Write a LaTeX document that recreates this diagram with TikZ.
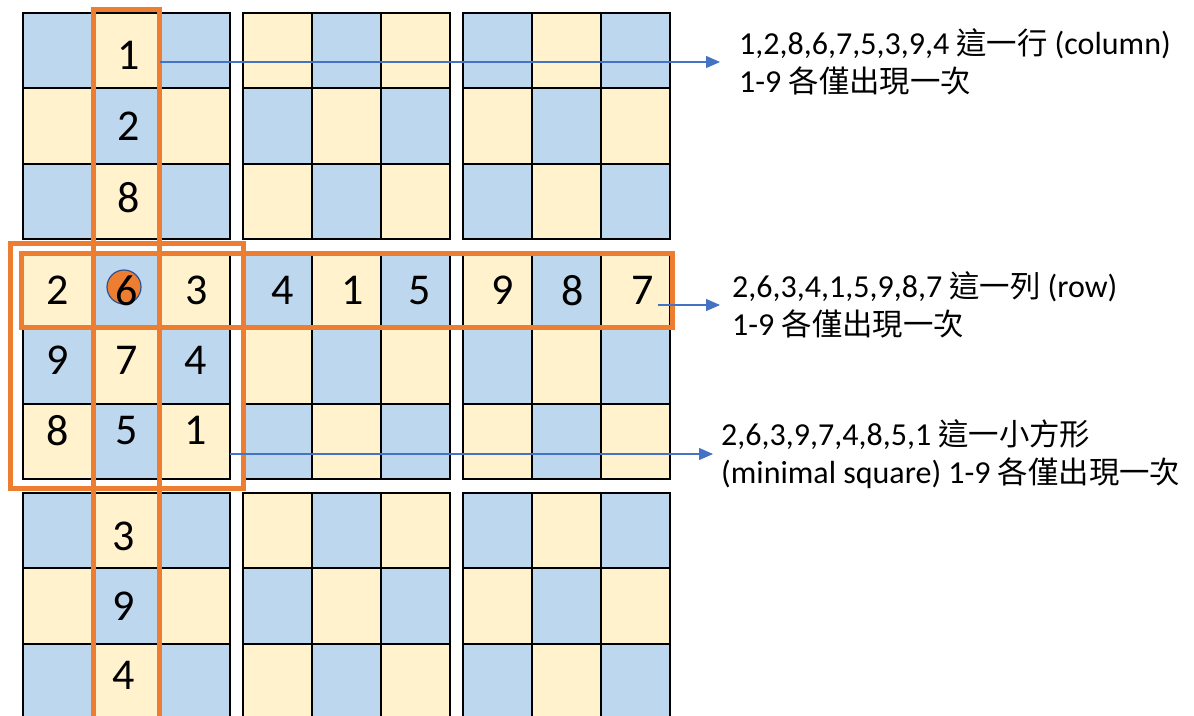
\documentclass[tikz,border=0pt]{standalone}
\usepackage{fontspec}
\setmainfont{Carlito}
\newfontfamily\cjk[Scale=0.95]{Noto Sans CJK TC}
\usetikzlibrary{arrows.meta,fit,positioning}
\definecolor{Ink}{HTML}{000000}
\definecolor{CellBlue}{HTML}{BDD7EE}
\definecolor{CellCream}{HTML}{FFF2CC}
\definecolor{Ember}{HTML}{ED7D31}
\definecolor{Azure}{HTML}{4472C4}
\definecolor{Navy}{HTML}{2F528F}
\tikzset{
  cell/.style={
    draw=Ink, line width=2pt, minimum width=69pt, minimum height=75.33pt,
    inner sep=0pt, outer sep=0pt
  },
  digit/.style={font=\fontsize{44}{44}\selectfont, inner sep=0pt},
  hilite/.style={draw=Ember, line width=5pt, inner sep=0pt, outer sep=0pt},
  marker/.style={
    circle, fill=Ember, draw=Navy, line width=1.2pt,
    minimum size=34pt, inner sep=0pt
  },
  note/.style={align=left, inner sep=0pt, font=\fontsize{32}{38}\selectfont},
  pointer/.style={-{Triangle[length=14pt,width=12pt]}, line width=1.3pt, draw=Azure}
}
\begin{document}
\begin{tikzpicture}[x=1pt, y=-1pt]
    \path[use as bounding box, fill=white] (0,0) rectangle (1194,715);
    \foreach \R in {0,1,2}
      \foreach \C in {0,1,2}
        \foreach \i in {0,1,2}
          \foreach \j in {0,1,2}{
            \pgfmathtruncatemacro\gr{3*\R+\i}
            \pgfmathtruncatemacro\gc{3*\C+\j}
            \pgfmathtruncatemacro\parity{mod(\R+\C+\i+\j,2)}
            \ifnum\parity=0 \def\tint{CellBlue}\else\def\tint{CellCream}\fi
            \node[cell,fill=\tint] (c-\gr-\gc) at ({57.5+220*\C+69*\j},{50.67+240*\R+75.33*\i}) {};
          }
    \node[marker] (dot) at (124,287) {};
    \foreach \gr/\gc/\val/\dx/\dy in {0/1/1/2/-5, 1/1/2/2/0, 2/1/8/2/4,
        3/0/2/0/0, 3/1/6/0/0, 3/2/3/1/0, 3/3/4/5/0, 3/4/1/6/0, 3/5/5/4/0,
        3/6/9/5/0, 3/7/8/6/0, 3/8/7/7/0, 4/0/9/0/6, 4/1/7/0/6, 4/2/4/0/6,
        5/0/8/0/11, 5/1/5/0/11, 5/2/1/0/11, 6/1/3/-3/-6, 7/1/9/-3/0, 8/1/4/-3/6}
      \node[digit,xshift=\dx pt,yshift=\dy pt] (n-\gr-\gc) at (c-\gr-\gc) {\val};
    \node[hilite,fit=(c-0-1)(c-8-1),inner xsep=-1.5pt,inner ysep=4pt] (colbox) {};
    \node[hilite,fit=(c-3-0)(c-5-2),inner xsep=13pt,inner ysep=9.5pt] (blockbox) {};
    \node[hilite,fit=(c-3-0)(c-3-8),inner xsep=2pt,inner ysep=-0.5pt] (rowbox) {};
    \coordinate (tip1) at (720,62);
    \coordinate (tip2) at (720,305);
    \coordinate (tip3) at (713,454);
    \node[note,right=19pt of tip1] (note1) {1,2,8,6,7,5,3,9,4 {\cjk 這一行} (column)\\1-9 {\cjk 各僅出現一次}};
    \node[note,right=12pt of tip2] (note2) {2,6,3,4,1,5,9,8,7 {\cjk 這一列} (row)\\1-9 {\cjk 各僅出現一次}};
    \node[note,right=8pt of tip3] (note3) {2,6,3,9,7,4,8,5,1 {\cjk 這一小方形}\\(minimal square) 1-9 {\cjk 各僅出現一次}};
    \draw[pointer] (colbox.east |- tip1) -- (tip1);
    \draw[pointer,shorten <=22pt] (c-3-8 |- tip2) -- (tip2);
    \draw[pointer] (c-5-2.east |- tip3) -- (tip3);
  \end{tikzpicture}
\end{document}
